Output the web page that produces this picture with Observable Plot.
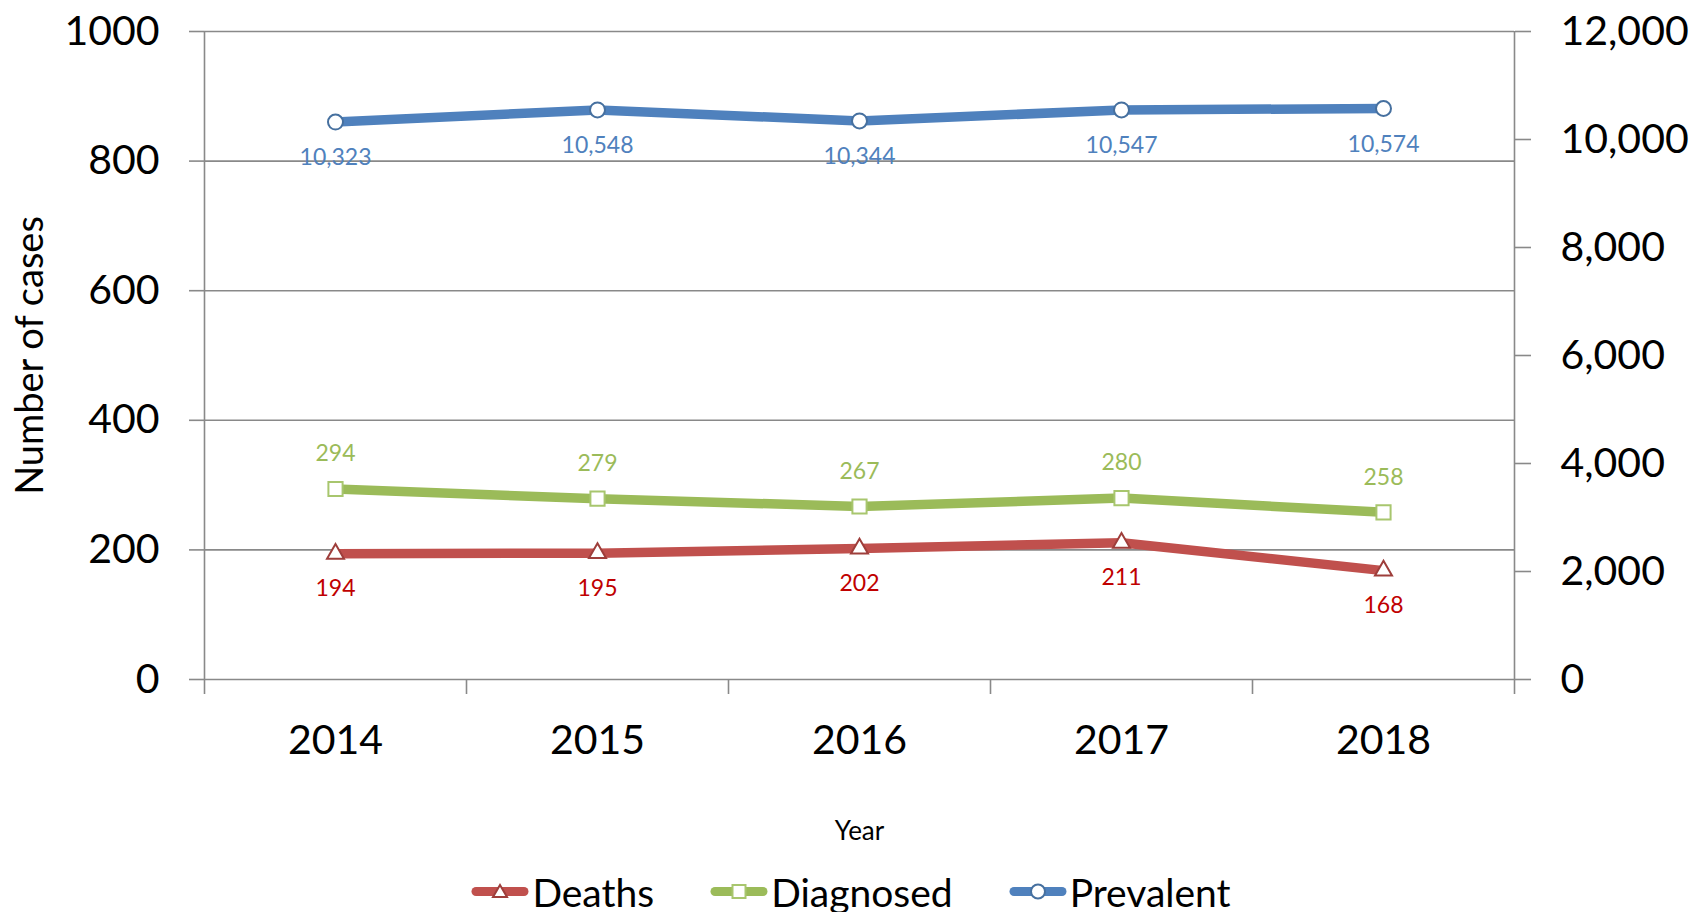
<!DOCTYPE html>
<html><head><meta charset="utf-8">
<script src="https://cdn.jsdelivr.net/npm/d3@7"></script>
<script src="https://cdn.jsdelivr.net/npm/@observablehq/plot@0.6"></script>
<style>
html,body{margin:0;padding:0;background:#fff;overflow:hidden;width:1696px;height:912px}
#legend{display:flex;justify-content:center;align-items:center;height:64px;font-family:Lato,sans-serif;font-size:39px;color:#000;padding-left:6px;gap:56px}
.item{display:flex;align-items:center;gap:3px}
</style></head><body><div id="chart"></div><div id="legend"></div>
<script>
const years = [2014, 2015, 2016, 2017, 2018];
const deaths = [194, 195, 202, 211, 168];
const diagnosed = [294, 279, 267, 280, 258];
const prevalent = [10323, 10548, 10344, 10547, 10574];
const leftTicks = [0, 200, 400, 600, 800, 1000];
const rightTicks = [0, 2000, 4000, 6000, 8000, 10000, 12000];
const ratio = 12; // right axis (12,000) over left axis (1000)

const series = [
  {name: "Deaths", values: deaths, scale: 1, color: "#C0504D", label: "#C00000", symbol: "triangle", r: 6.3, mstroke: "#9e3e3b", dy: 35},
  {name: "Diagnosed", values: diagnosed, scale: 1, color: "#9BBB59", label: "#9BBB59", symbol: "square", r: 8, mstroke: "#a8c66e", dy: -35},
  {name: "Prevalent", values: prevalent, scale: ratio, color: "#4F81BD", label: "#4F81BD", symbol: "circle", r: 7.5, mstroke: "#46709f", dy: 36}
];
const fmt = d3.format(",");
const boundaries = years.map(y => y - 0.5).concat([years[years.length - 1] + 0.5]);
const grey = "#898989";

const marks = [
  Plot.ruleY(leftTicks, {stroke: grey, strokeWidth: 1.6}),
  Plot.ruleX([boundaries[0], boundaries[boundaries.length - 1]], {y1: 0, y2: 1000, stroke: grey, strokeWidth: 1.6}),
  Plot.axisY({anchor: "left", ticks: leftTicks, tickFormat: "d", tickSize: 15, tickPadding: 30, fontSize: 41, stroke: grey, strokeWidth: 1.6, fill: "#000", label: null}),
  Plot.axisY({anchor: "right", ticks: rightTicks.map(v => v / ratio), tickFormat: d => fmt(Math.round(d * ratio)), tickSize: 16, tickPadding: 30, fontSize: 41, stroke: grey, strokeWidth: 1.6, fill: "#000", label: null}),
  Plot.axisX({anchor: "bottom", ticks: boundaries, tickSize: 15, tickFormat: () => "", stroke: grey, strokeWidth: 1.6, label: null}),
  Plot.axisX({anchor: "bottom", ticks: years, tickSize: 0, tickPadding: 45, tickFormat: "d", fontSize: 41, fill: "#000", label: null}),
  Plot.text(["Number of cases"], {frameAnchor: "left", textAnchor: "middle", dx: -174, rotate: -90, fontSize: 38, fill: "#000"}),
  Plot.text(["Year"], {frameAnchor: "bottom", dy: 160, fontSize: 26, fill: "#000"})
];

for (const s of series) {
  const rows = years.map((year, i) => ({year, value: s.values[i], y: s.values[i] / s.scale}));
  marks.push(Plot.line(rows, {x: "year", y: "y", stroke: s.color, strokeWidth: 9.5, strokeLinejoin: "round"}));
  marks.push(Plot.dot(rows, {x: "year", y: "y", symbol: s.symbol, r: s.r, fill: "white", stroke: s.mstroke, strokeWidth: 2, ariaLabel: "marker"}));
  marks.push(Plot.text(rows, {x: "year", y: "y", text: d => fmt(d.value), dy: s.dy, fill: s.label, fontSize: 23}));
}

const chart = Plot.plot({
  width: 1696, height: 860,
  marginLeft: 204, marginRight: 182, marginTop: 31, marginBottom: 181,
  style: {fontFamily: "Lato, sans-serif", background: "#fff", overflow: "visible"},
  x: {type: "linear", domain: [boundaries[0], boundaries[boundaries.length - 1]], axis: null},
  y: {domain: [0, 1000], axis: null},
  marks
});
chart.querySelectorAll('g[aria-label="marker"]').forEach(g => g.style.filter = "drop-shadow(1px 2px 1.5px rgba(0,0,0,0.35))");
document.getElementById("chart").appendChild(chart);

const legend = document.getElementById("legend");
const symPath = {
  triangle: '<path d="M29,3 L36,15 L22,15 Z"',
  square: '<rect x="22.5" y="3" width="13" height="13"',
  circle: '<circle cx="29" cy="9.5" r="7"'
};
for (const s of series) {
  const item = document.createElement("div");
  item.className = "item";
  item.innerHTML = `<svg width="58" height="20"><line x1="5" y1="9.5" x2="53" y2="9.5" stroke="${s.color}" stroke-width="9" stroke-linecap="round"/>${symPath[s.symbol]} fill="white" stroke="${s.mstroke}" stroke-width="2"/></svg><span>${s.name}</span>`;
  legend.appendChild(item);
}
</script></body></html>
